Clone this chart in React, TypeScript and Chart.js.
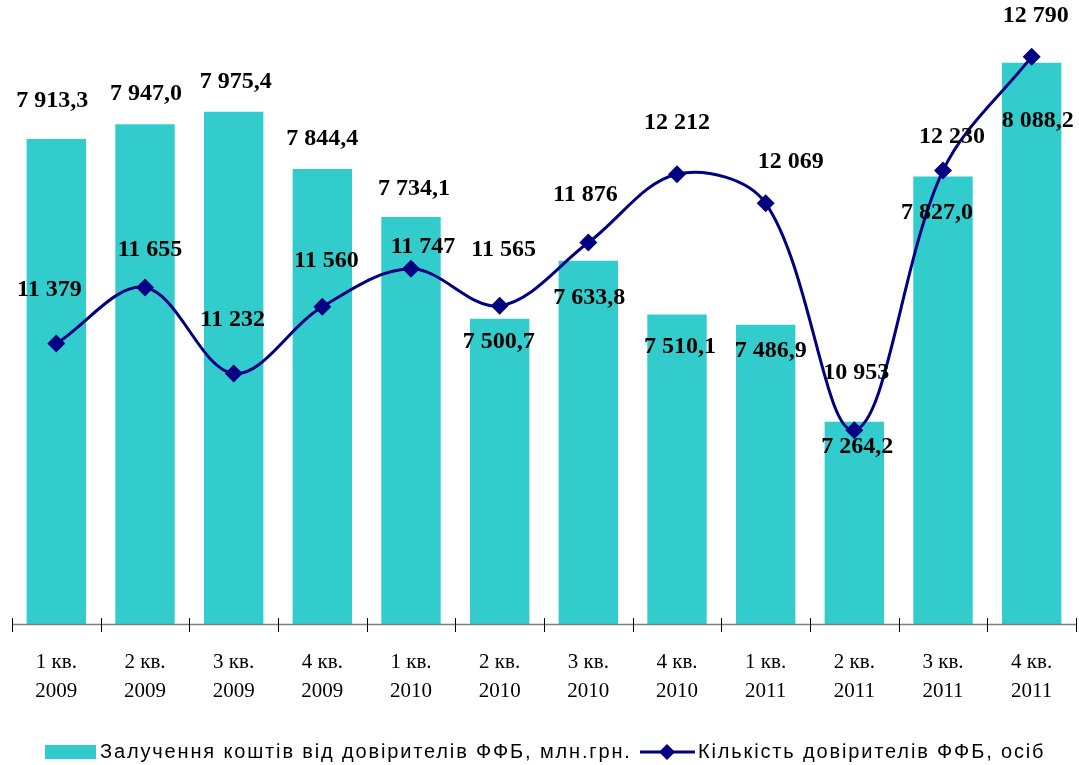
import React, { useEffect, useRef } from "react";
import { Chart, registerables } from "chart.js";

Chart.register(...registerables);

const categories: string[][] = [
  ["1 кв.", "2009"], ["2 кв.", "2009"], ["3 кв.", "2009"], ["4 кв.", "2009"],
  ["1 кв.", "2010"], ["2 кв.", "2010"], ["3 кв.", "2010"], ["4 кв.", "2010"],
  ["1 кв.", "2011"], ["2 кв.", "2011"], ["3 кв.", "2011"], ["4 кв.", "2011"],
];

const fundsValues = [7913.3, 7947.0, 7975.4, 7844.4, 7734.1, 7500.7, 7633.8, 7510.1, 7486.9, 7264.2, 7827.0, 8088.2];
const trusteeValues = [11379, 11655, 11232, 11560, 11747, 11565, 11876, 12212, 12069, 10953, 12230, 12790];

const fundsLabels = ["7 913,3", "7 947,0", "7 975,4", "7 844,4", "7 734,1", "7 500,7", "7 633,8", "7 510,1", "7 486,9", "7 264,2", "7 827,0", "8 088,2"];
const trusteeLabels = ["11 379", "11 655", "11 232", "11 560", "11 747", "11 565", "11 876", "12 212", "12 069", "10 953", "12 230", "12 790"];

const fundsName = "Залучення коштів від довірителів ФФБ, млн.грн.";
const trusteeName = "Кількість довірителів ФФБ, осіб";

// label offsets (px) relative to bar top / point position
const fundsLabelDx = [-4, 1, 2, 0, 3, -1, 1, 3, 5, 3, -6, 6];
const fundsLabelDy = [-38, -30, -30, -30, -28, 23, 37, 32, 26, 25, 36, 58];
const trusteeLabelDx = [-7, 5, -1, 4, 12, 4, -3, 0, 25, 2, 9, 4];
const trusteeLabelDy = [-54, -38, -54, -46, -22, -56, -48, -51, -42, -57, -34, -41];

const BAR_COLOR = "#33CCCC";
const LINE_COLOR = "#000080";
const SERIF = '"Liberation Serif", "Times New Roman", serif';
const SANS = '"Liberation Sans", Arial, sans-serif';

const labelsPlugin = {
  id: "valueLabels",
  afterDatasetsDraw(chart: any) {
    const ctx = chart.ctx;
    ctx.save();
    ctx.font = `bold 24px ${SERIF}`;
    ctx.fillStyle = "#000";
    ctx.textAlign = "center";
    ctx.textBaseline = "middle";
    const barMeta = chart.getDatasetMeta(1);
    barMeta.data.forEach((el: any, i: number) => {
      ctx.fillText(fundsLabels[i], el.x + fundsLabelDx[i], el.y + fundsLabelDy[i]);
    });
    const lineMeta = chart.getDatasetMeta(0);
    lineMeta.data.forEach((el: any, i: number) => {
      ctx.fillText(trusteeLabels[i], el.x + trusteeLabelDx[i], el.y + trusteeLabelDy[i]);
    });
    ctx.restore();
  },
};

const axisPlugin = {
  id: "axisLine",
  afterDatasetsDraw(chart: any) {
    const ctx = chart.ctx;
    const area = chart.chartArea;
    const xs = chart.scales.x;
    const n = categories.length;
    const step = xs.getPixelForValue(1) - xs.getPixelForValue(0);
    const start = xs.getPixelForValue(0) - step / 2;
    const end = start + n * step;
    ctx.save();
    ctx.strokeStyle = "#808080";
    ctx.lineWidth = 1.5;
    ctx.beginPath();
    ctx.moveTo(start, area.bottom + 0.5);
    ctx.lineTo(end, area.bottom + 0.5);
    ctx.stroke();
    ctx.strokeStyle = "#000";
    ctx.lineWidth = 1;
    for (let i = 0; i <= n; i++) {
      const px = Math.round(start + i * step) + 0.5;
      ctx.beginPath();
      ctx.moveTo(px, area.bottom - 6);
      ctx.lineTo(px, area.bottom + 8);
      ctx.stroke();
    }
    ctx.restore();
  },
};

const legendPlugin = {
  id: "customLegend",
  afterDraw(chart: any) {
    const ctx = chart.ctx;
    const y = 752;
    ctx.save();
    ctx.fillStyle = BAR_COLOR;
    ctx.fillRect(45, 745, 51, 14);
    ctx.font = `20px ${SANS}`;
    try {
      (ctx as any).letterSpacing = "1.85px";
    } catch (e) {}
    ctx.fillStyle = "#000";
    ctx.textAlign = "left";
    ctx.textBaseline = "middle";
    ctx.fillText(fundsName, 100, y);
    ctx.strokeStyle = LINE_COLOR;
    ctx.lineWidth = 3;
    ctx.beginPath();
    ctx.moveTo(640, y);
    ctx.lineTo(695, y);
    ctx.stroke();
    ctx.fillStyle = LINE_COLOR;
    ctx.beginPath();
    ctx.moveTo(667, y - 8);
    ctx.lineTo(675, y);
    ctx.lineTo(667, y + 8);
    ctx.lineTo(659, y);
    ctx.closePath();
    ctx.fill();
    ctx.fillStyle = "#000";
    ctx.fillText(trusteeName, 698, y);
    ctx.restore();
  },
};

export default function App() {
  const canvasRef = useRef<HTMLCanvasElement | null>(null);

  useEffect(() => {
    document.body.style.margin = "0";
    const canvas = canvasRef.current;
    if (!canvas) return;
    const chart = new Chart(canvas, {
      type: "bar",
      data: {
        labels: categories,
        datasets: [
          {
            type: "line",
            label: trusteeName,
            data: trusteeValues,
            yAxisID: "y1",
            borderColor: LINE_COLOR,
            backgroundColor: LINE_COLOR,
            borderWidth: 3,
            tension: 0.35,
            pointStyle: "rectRot",
            pointRadius: 9,
            pointBackgroundColor: LINE_COLOR,
            pointBorderColor: LINE_COLOR,
            pointBorderWidth: 0,
            clip: false,
            order: 0,
          } as any,
          {
            type: "bar",
            label: fundsName,
            data: fundsValues,
            yAxisID: "y",
            backgroundColor: BAR_COLOR,
            barPercentage: 0.67,
            categoryPercentage: 1,
            order: 1,
          },
        ],
      },
      options: {
        responsive: false,
        animation: false,
        devicePixelRatio: 1,
        layout: { autoPadding: false, padding: { left: 12, right: 3, top: 14, bottom: 0 } },
        plugins: {
          legend: { display: false },
          tooltip: { enabled: false },
        },
        scales: {
          x: {
            grid: { display: false, drawTicks: false },
            border: { display: false },
            ticks: {
              font: { family: SERIF, size: 21, lineHeight: 1.38 },
              color: "#000",
              padding: 24,
              maxRotation: 0,
              autoSkip: false,
            },
            afterFit: (s: any) => {
              s.height = 141;
              s.paddingLeft = 0;
              s.paddingRight = 0;
            },
          },
          y: { display: false, min: 6800, max: 8200 },
          y1: { display: false, min: 10000, max: 13000, position: "right" },
        },
      },
      plugins: [axisPlugin, labelsPlugin, legendPlugin],
    });
    return () => chart.destroy();
  }, []);

  return (
    <div style={{ width: 1079, height: 765 }}>
      <canvas ref={canvasRef} width={1079} height={765} style={{ display: "block" }} />
    </div>
  );
}
